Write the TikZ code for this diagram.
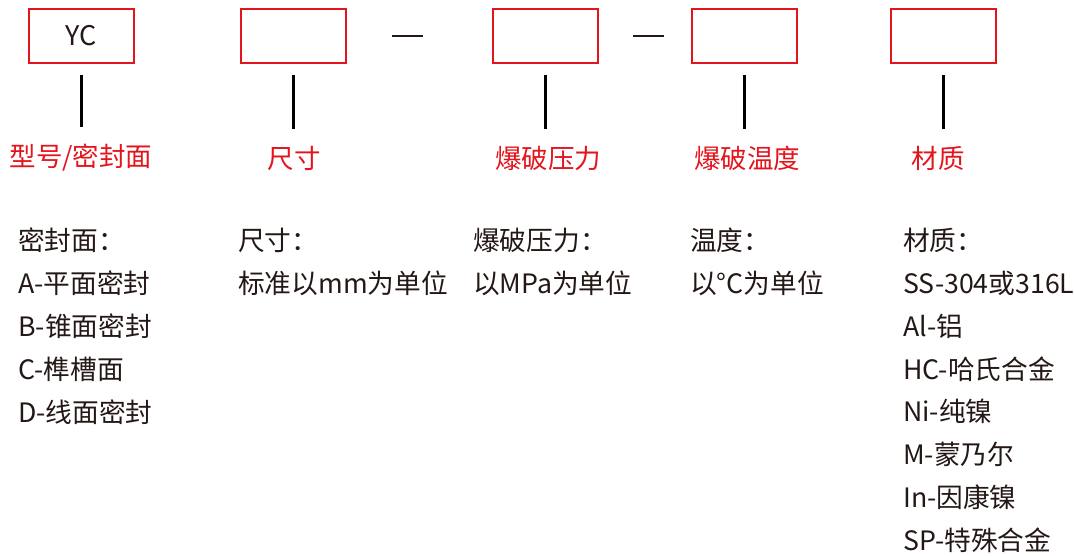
\documentclass[tikz,border=0pt]{standalone}
\usepackage{fontspec}
\setmainfont{Noto Sans CJK SC}
\usepackage{tikz}
\usetikzlibrary{positioning,calc}
\definecolor{piros}{RGB}{228,20,28}
\definecolor{fekete}{RGB}{35,24,21}
\tikzset{
  doboz/.style={draw=piros,line width=2pt,minimum width=105pt,minimum height=54pt,inner sep=0pt,text=fekete},
  cim/.style={text=piros,inner sep=0pt,font=\fontsize{26.5}{30}\selectfont},
  vonal/.style={line width=3pt,black},
  kotojel/.style={line width=1.8pt,fekete},
  lista/.style={text=fekete,align=left,anchor=north west,inner sep=0pt,
    font=\fontsize{26.7}{42.8}\selectfont},
}

\begin{document}
\begin{tikzpicture}[x=1pt,y=-1pt,font=\fontsize{27}{30}\selectfont]
  \useasboundingbox (0,0) rectangle (1074,555);
  % boxes of the code
  \node[doboz] (tipus) at (81.5,36) {YC};
  \node[doboz] (meret) at (293,36) {};
  \node[doboz] (nyomas) at (545.5,36) {};
  \node[doboz] (hofok) at (744,36) {};
  \node[doboz] (anyag) at (943,36) {};
  \draw[kotojel] (392,36) -- (423,36);
  \draw[kotojel] (633,36) -- (664,36);
  % red captions
  \node[cim] (tipuscim) at (81,158) {型号/密封面};
  \node[cim] (meretcim) at (294,158) {尺寸};
  \node[cim] (nyomascim) at (548,158) {爆破压力};
  \node[cim] (hofokcim) at (747,158) {爆破温度};
  \node[cim] (anyagcim) at (938,158) {材质};
  \foreach \b/\c in {tipus/tipuscim,meret/meretcim,nyomas/nyomascim,hofok/hofokcim,anyag/anyagcim}
    \draw[vonal] ([yshift=-11pt]\b.south) -- ([yshift=17pt]\b.south |- \c.north);
  % explanations
  \node[lista] (tipuslista) at (18,228) {密封面：\\A-平面密封\\B-锥面密封\\C-榫槽面\\D-线面密封};
  \node[lista] (meretlista) at (238,228) {尺寸：\\标准以mm为单位};
  \node[lista] (nyomaslista) at (473,228) {爆破压力：\\以MPa为单位};
  \node[lista] (hofoklista) at (690,228) {温度：\\以°C为单位};
  \node[lista] (anyaglista) at (903,228)
    {材质：\\SS-304或316L\\Al-铝\\HC-哈氏合金\\Ni-纯镍\\M-蒙乃尔\\In-因康镍\\SP-特殊合金};
\end{tikzpicture}
\end{document}
